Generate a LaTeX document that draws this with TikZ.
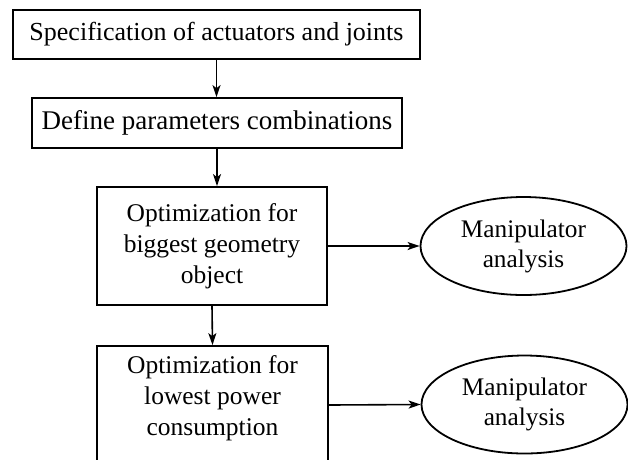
\documentclass[tikz,border=0pt]{standalone}
\usepackage{fontspec}
\setmainfont{Liberation Serif}
\usetikzlibrary{arrows.meta,shapes.geometric}
\begin{document}
\begin{tikzpicture}[x=1pt,y=1pt,
  every node/.style={align=center, inner sep=0pt},
  boxnode/.style={draw, line width=1.8pt, rectangle},
  ellnode/.style={draw, line width=1.8pt, ellipse, minimum width=206pt, minimum height=98pt},
  conn/.style={line width=1.6pt, -{Stealth[length=12pt,width=8pt,inset=3pt]}}
]
\useasboundingbox (0,0) rectangle (628,-459);
\clip (0,0) rectangle (628,-459);
\node[boxnode, minimum width=407pt, minimum height=49pt, font=\fontsize{26}{31}\selectfont] (b1) at (216.5,-34.5) {Specification of actuators and joints};
\node[boxnode, minimum width=370pt, minimum height=50pt, font=\fontsize{27}{31}\selectfont] (b2) at (217,-123) {Define parameters combinations};
\node[boxnode, minimum width=230pt, minimum height=118pt, font=\fontsize{25.5}{31}\selectfont] (b3) at (212,-246) {Optimization for\\biggest geometry\\object};
\node[boxnode, minimum width=231pt, minimum height=118pt] (b4) at (212.5,-405) {};
\node[font=\fontsize{25.5}{31}\selectfont] (b4t) at (212.5,-398) {Optimization for\\lowest power\\consumption};
\node[ellnode, font=\fontsize{25.3}{30}\selectfont] (e1) at (523.5,-246) {Manipulator\\analysis};
\node[ellnode, font=\fontsize{25.3}{30}\selectfont] (e2) at (524.5,-404.5) {Manipulator\\analysis};
\draw[conn] (b1.south) -- (b1.south |- b2.north);
\draw[conn] (b2.south) -- (b2.south |- b3.north);
\draw[conn] (b3.south) -- (b4.north);
\draw[conn] (b3.east) -- (e1.west);
\draw[conn] (b4.east) -- (e2.west);
\end{tikzpicture}
\end{document}
